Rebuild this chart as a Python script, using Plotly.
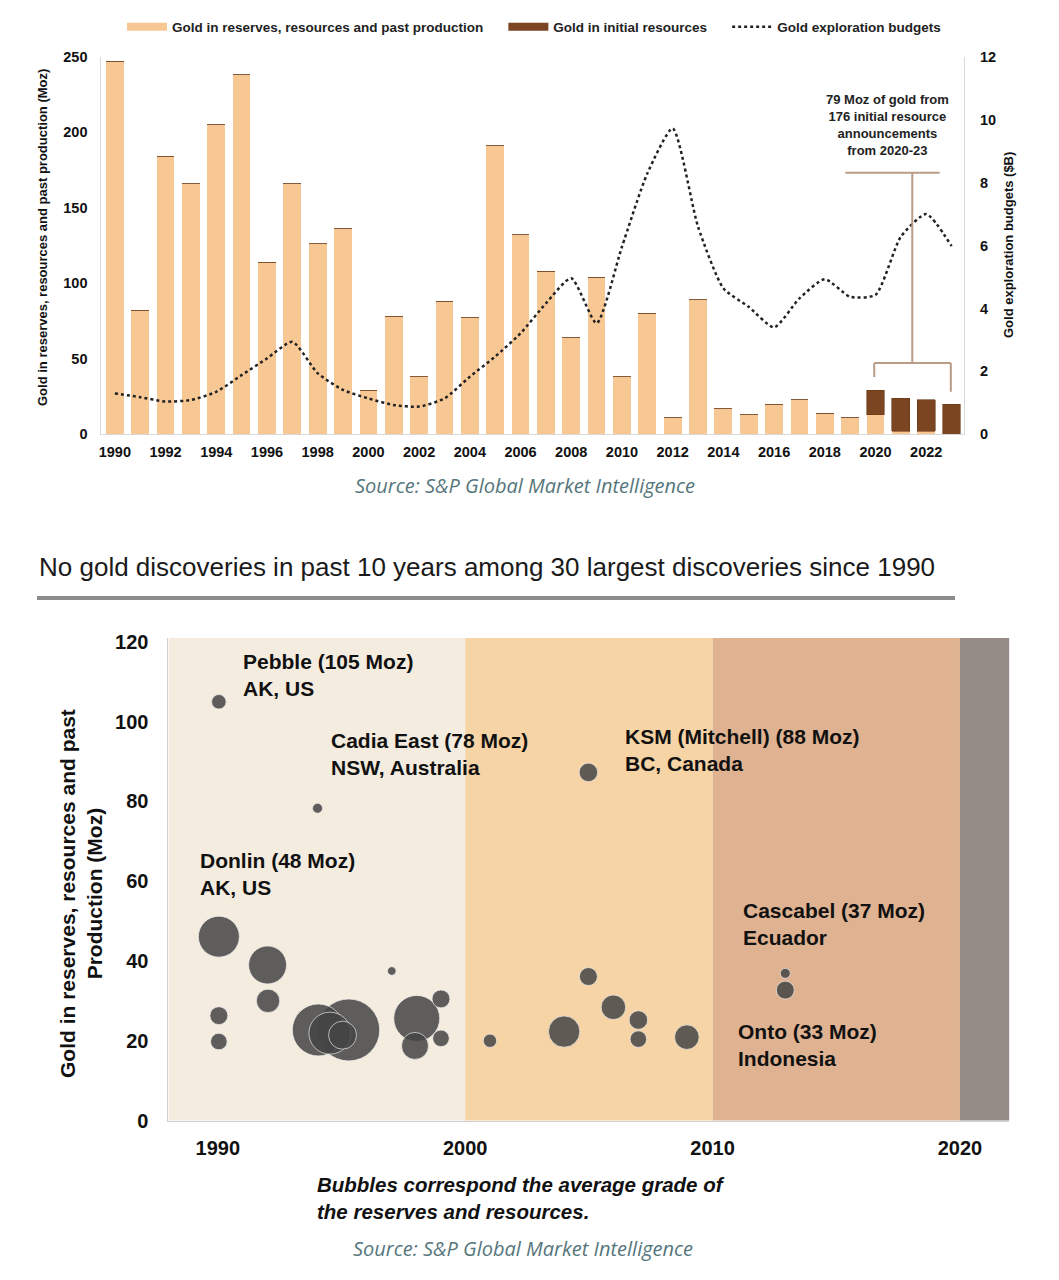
import plotly.graph_objects as go

# ---------------- Data: top chart ----------------
years = list(range(1990, 2024))
gold_rrp = [247, 82, 184, 166, 205, 238, 114, 166, 126, 136,
            29, 78, 38, 88, 77, 191, 132, 108, 64, 104,
            38, 80, 11, 89, 17, 13, 20, 23, 14, 11,
            13, 2, 2, 0]
gold_initial = [0] * 30 + [16, 22, 21, 20]
expl_budget = [1.30, 1.18, 1.04, 1.09, 1.35, 1.88, 2.41, 2.94, 1.94, 1.41,
               1.14, 0.93, 0.88, 1.14, 1.83, 2.47, 3.21, 4.16, 4.96, 3.53,
               5.96, 8.29, 9.72, 6.60, 4.64, 4.05, 3.40, 4.32, 4.93, 4.37,
               4.43, 6.28, 7.00, 5.98]
top_xticks = list(range(1990, 2023, 2))

# ---------------- Data: bubble chart ----------------
disc_year = [1990.04, 1994.03, 1990.04, 1992.01, 1997.03, 1992.03, 1990.04, 1990.04,
             1995.29, 1994.06, 1994.53, 1995.04, 1998.04, 1997.97, 1999.02, 1999.02,
             2001.0, 2004.98, 2004.98, 2005.99, 2004.0, 2007.0, 2007.0, 2008.96,
             2012.94, 2012.94]
disc_moz = [105.0, 78.3, 46.1, 39.0, 37.5, 30.0, 26.3, 19.8,
            22.7, 22.7, 21.9, 21.4, 25.6, 18.7, 30.5, 20.6,
            20.0, 87.3, 36.1, 28.4, 22.3, 25.2, 20.4, 20.9,
            36.9, 32.7]
disc_grade = [14.6, 10, 41, 38, 8.6, 23.4, 18, 16.6,
              62, 52, 42, 28, 46, 27, 18, 16.6,
              13.4, 18.6, 18, 24.6, 31.4, 18.6, 16.6, 24.6,
              10, 18]
decade_edges = [1988.0, 2000, 2010, 2020, 2022.0]
decade_colors = ["#f5ece0", "#f7d4a6", "#dfb392", "#958c87"]
labels = [
    ("Pebble (105 Moz)<br>AK, US", 1990.93, 111.6),
    ("Cadia East (78 Moz)<br>NSW, Australia", 1994.49, 91.8),
    ("Donlin (48 Moz)<br>AK, US", 1989.19, 61.7),
    ("KSM (Mitchell) (88 Moz)<br>BC, Canada", 2006.38, 92.9),
    ("Cascabel (37 Moz)<br>Ecuador", 2011.16, 49.4),
    ("Onto (33 Moz)<br>Indonesia", 2010.95, 18.9),
]

FONT = "Liberation Sans, Arial, sans-serif"
OFF = 8  # page body margin
W, H = 1059 - OFF, 1280 - OFF
C_LIGHT = "#f7c894"
C_DARK = "#7a4520"
GAP = "\u00a0" * 4

fig = go.Figure()

fig.add_trace(go.Bar(x=years, y=gold_rrp, name="Gold in reserves, resources and past production",
                     marker=dict(color=C_LIGHT, line=dict(width=0)), width=0.7, showlegend=False,
                     xaxis="x", yaxis="y"))
fig.add_trace(go.Bar(x=years, y=gold_initial, name="Gold in initial resources",
                     marker=dict(color=C_DARK, line=dict(width=0.6, color="#6a3a18")), width=0.7,
                     showlegend=False, xaxis="x", yaxis="y"))
# legend proxies (wide swatches like the reference)
fig.add_trace(go.Scatter(x=[None], y=[None], mode="lines",
                         name="Gold in reserves, resources and past production" + GAP,
                         line=dict(color=C_LIGHT, width=8), xaxis="x", yaxis="y"))
fig.add_trace(go.Scatter(x=[None], y=[None], mode="lines", name="Gold in initial resources" + GAP,
                         line=dict(color=C_DARK, width=8), xaxis="x", yaxis="y"))
fig.add_trace(go.Scatter(x=years, y=expl_budget, name="Gold exploration budgets",
                         mode="lines", line=dict(color="#222222", width=2.5, dash="dot", shape="spline", smoothing=0.6),
                         xaxis="x", yaxis="y2"))

fig.add_trace(go.Scatter(x=disc_year, y=disc_moz, mode="markers", showlegend=False,
                         marker=dict(size=disc_grade, sizemode="diameter", color="#454545", opacity=0.85,
                                     line=dict(color="rgba(235,235,235,0.8)", width=1)),
                         xaxis="x2", yaxis="y3"))


def px_x(p):
    return (p - OFF) / W


def px_y(p):
    return 1 - (p - OFF) / H


tick_font = dict(family=FONT, size=14.5, color="#111", weight="bold")
big_tick = dict(family=FONT, size=20, color="#111", weight="bold")

fig.update_layout(
    width=W, height=H,
    margin=dict(l=0, r=0, t=0, b=0, autoexpand=False),
    paper_bgcolor="white", plot_bgcolor="rgba(0,0,0,0)",
    barmode="stack",
    font=dict(family=FONT, color="#111"),
    legend=dict(orientation="h", x=px_x(534), xanchor="center", y=px_y(27), yanchor="middle",
                font=dict(family=FONT, size=13.5, color="#222", weight="bold"),
                bgcolor="rgba(0,0,0,0)", traceorder="normal", itemwidth=40),
    xaxis=dict(domain=[px_x(101.4), px_x(964)], range=[1989.47, 2023.49], anchor="y",
               tickvals=top_xticks, tickfont=tick_font, showgrid=False, zeroline=False,
               showline=True, linecolor="#d9d9d9", linewidth=1, ticks="", ticklabelstandoff=4),
    yaxis=dict(domain=[px_y(434.3), px_y(56.7)], range=[0, 250], anchor="x",
               tickvals=[0, 50, 100, 150, 200, 250], tickfont=tick_font, showgrid=False, zeroline=False,
               showline=True, linecolor="#d9d9d9", linewidth=1, ticks="", ticklabelstandoff=10),
    yaxis2=dict(domain=[px_y(434.3), px_y(56.7)], range=[0, 12], overlaying="y", side="right", anchor="x",
                tickvals=[0, 2, 4, 6, 8, 10, 12], tickfont=tick_font, showgrid=False, zeroline=False,
                showline=True, linecolor="#d9d9d9", linewidth=1, ticks="", ticklabelstandoff=12),
    xaxis2=dict(domain=[px_x(168.4), px_x(1009.4)], range=[1988.0, 2022.0], anchor="y3",
                tickvals=[1990, 2000, 2010, 2020], tickfont=big_tick, showgrid=False, zeroline=False,
                showline=True, linecolor="#d0d0d0", linewidth=1, ticks="", ticklabelstandoff=9),
    yaxis3=dict(domain=[px_y(1120.5), px_y(638)], range=[0, 121], anchor="x2",
                tickvals=[0, 20, 40, 60, 80, 100, 120], tickfont=big_tick, showgrid=False, zeroline=False,
                showline=True, linecolor="#d0d0d0", linewidth=1, ticks="", ticklabelstandoff=15),
)

shapes = []
for i, c in enumerate(decade_colors):
    shapes.append(dict(type="rect", xref="x2", yref="y3 domain", x0=decade_edges[i], x1=decade_edges[i + 1],
                       y0=0, y1=1, fillcolor=c, line=dict(width=0), layer="below"))
br = dict(color="#b89c88", width=2)
shapes += [
    dict(type="line", xref="x", yref="y", x0=2018.81, x1=2022.53, y0=173.2, y1=173.2, line=br),
    dict(type="line", xref="x", yref="y", x0=2021.45, x1=2021.45, y0=173.2, y1=47.2, line=br),
    dict(type="line", xref="x", yref="y", x0=2019.95, x1=2022.97, y0=47.2, y1=47.2, line=br),
    dict(type="line", xref="x", yref="y", x0=2019.95, x1=2019.95, y0=47.2, y1=37.9, line=br),
    dict(type="line", xref="x", yref="y", x0=2022.97, x1=2022.97, y0=47.2, y1=28.2, line=br),
]
shapes.append(dict(type="line", xref="paper", yref="paper", x0=px_x(37), x1=px_x(955), y0=px_y(598), y1=px_y(598),
                   line=dict(color="#8c8c8c", width=4)))
fig.update_layout(shapes=shapes)

ann = []
ann.append(dict(text="79 Moz of gold from<br>176 initial resource<br>announcements<br>from 2020-23",
                xref="x", yref="y", x=2020.49, y=204.8, showarrow=False, align="center",
                font=dict(family=FONT, size=13, color="#222", weight="bold"), xanchor="center", yanchor="middle"))
ann.append(dict(text="Gold in reserves, resources and past production (Moz)", xref="paper", yref="paper",
                x=px_x(42), y=px_y(238), textangle=-90, showarrow=False, xanchor="center", yanchor="middle",
                font=dict(family=FONT, size=13, color="#111", weight="bold")))
ann.append(dict(text="Gold exploration budgets ($B)", xref="paper", yref="paper",
                x=px_x(1008), y=px_y(245), textangle=-90, showarrow=False, xanchor="center", yanchor="middle",
                font=dict(family=FONT, size=13, color="#111", weight="bold")))
src_font = dict(family="Open Sans, sans-serif", size=20, color="#56767c")
ann.append(dict(text="<i>Source: S&P Global Market Intelligence</i>", xref="paper", yref="paper",
                x=px_x(525), y=px_y(486), showarrow=False, xanchor="center", yanchor="middle", font=src_font))
ann.append(dict(text="No gold discoveries in past 10 years among 30 largest discoveries since 1990",
                xref="paper", yref="paper", x=px_x(37), y=px_y(567), xanchor="left", yanchor="middle",
                showarrow=False, font=dict(family=FONT, size=26, color="#1a1a1a")))
ann.append(dict(text="Gold in reserves, resources and past<br>Production (Moz)", xref="paper", yref="paper",
                x=px_x(81), y=px_y(894), textangle=-90, showarrow=False, align="center",
                xanchor="center", yanchor="middle",
                font=dict(family=FONT, size=21, color="#111", weight="bold")))
for t, lx, ly in labels:
    ann.append(dict(text=t, xref="x2", yref="y3", x=lx, y=ly, xanchor="left", yanchor="middle",
                    align="left", showarrow=False, font=dict(family=FONT, size=21, color="#111", weight="bold")))
ann.append(dict(text="<i>Bubbles correspond the average grade of<br>the reserves and resources.</i>",
                xref="paper", yref="paper", x=px_x(315), y=px_y(1198), xanchor="left", yanchor="middle",
                align="left", showarrow=False, font=dict(family=FONT, size=20.5, color="#111", weight="bold")))
ann.append(dict(text="<i>Source: S&P Global Market Intelligence</i>", xref="paper", yref="paper",
                x=px_x(523), y=px_y(1248), showarrow=False, xanchor="center", yanchor="middle", font=src_font))
fig.update_layout(annotations=ann)

fig.write_html("out.html")
